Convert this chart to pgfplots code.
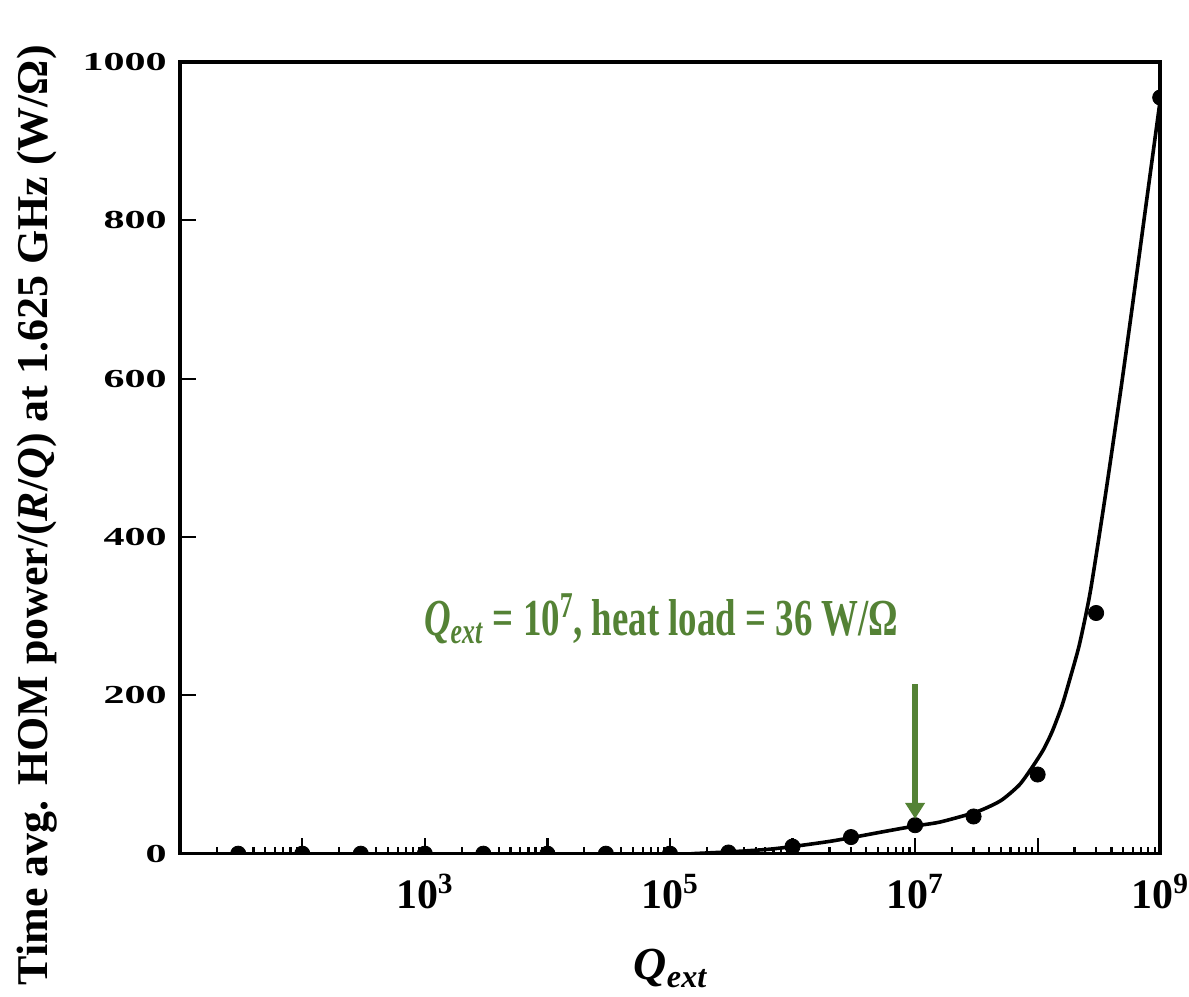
\documentclass[border=0pt]{standalone}
\usepackage{fontspec}
\setmainfont{Liberation Serif}
\usepackage{graphicx}
\usepackage{pgfplots}
\usepackage{pgfplotstable}
\pgfplotsset{compat=1.18}
\usetikzlibrary{arrows.meta}
\definecolor{annot}{RGB}{84,130,53}

\pgfplotstableread{
q y
3e1 0
1e2 0
3e2 0
1e3 0
3e3 0
1e4 0
3e4 0
1e5 0
3e5 1.5
1e6 9
3e6 21
1e7 36
3e7 47
1e8 100
3e8 304
1e9 955
}\pts

\pgfplotstableread{
q y
1.5e5 0
3.2e5 2.5
6.3e5 5.5
1e6 9
2e6 15.5
3.2e6 21
5.6e6 28
1e7 35
1.6e7 40
3.2e7 53
5e7 67
7.1e7 87
9.1e7 110
1.12e8 132
1.32e8 155
1.58e8 187
1.82e8 219
2.19e8 264
2.69e8 331
3.55e8 450
4.79e8 588
6.03e8 700
7.67e8 820
1e9 952
}\fit

\begin{document}
\begin{tikzpicture}
\begin{axis}[
  name=ax,
  scale only axis,
  width=491pt, height=396.5pt,
  xmode=log, log basis x=10,
  xmin=10, xmax=1e9,
  ymin=0, ymax=1000,
  xtick={1e1,1e2,1e3,1e4,1e5,1e6,1e7,1e8,1e9},
  minor xtick={20,30,40,50,60,70,80,90,
    200,300,400,500,600,700,800,900,
    2000,3000,4000,5000,6000,7000,8000,9000,
    2e4,3e4,4e4,5e4,6e4,7e4,8e4,9e4,
    2e5,3e5,4e5,5e5,6e5,7e5,8e5,9e5,
    2e6,3e6,4e6,5e6,6e6,7e6,8e6,9e6,
    2e7,3e7,4e7,5e7,6e7,7e7,8e7,9e7,
    2e8,3e8,4e8,5e8,6e8,7e8,8e8,9e8},
  xticklabels={{},{},10\textsuperscript{3},{},10\textsuperscript{5},{},10\textsuperscript{7},{},10\textsuperscript{9}},
  ytick={0,200,400,600,800,1000},
  yticklabels={\scalebox{1.62}[1]{0},\scalebox{1.62}[1]{200},\scalebox{1.62}[1]{400},\scalebox{1.62}[1]{600},\scalebox{1.62}[1]{800},\scalebox{1.62}[1]{1000}},
  minor y tick num=0,
  tick align=inside,
  xtick pos=bottom, ytick pos=left,
  major tick length=8pt,
  minor tick length=3.5pt,
  every tick/.style={black, line width=1.1pt},
  axis line style={line width=1.8pt},
  xticklabel style={font=\fontsize{21}{21}\selectfont\bfseries, inner sep=0pt, yshift=-10pt},
  yticklabel style={font=\fontsize{13}{13}\selectfont\bfseries, xshift=-3pt},
  xlabel={\textbf{\textit{Q}\textsubscript{\textit{ext}}}},
  xlabel style={font=\fontsize{23}{24}\selectfont, inner sep=0pt, at={(axis description cs:0.501,-0.145)}, anchor=center},
  ylabel={\textbf{Time avg. HOM power/(\textit{R}/\textit{Q}) at 1.625 GHz (W/Ω)}},
  ylabel style={font=\fontsize{22}{22}\selectfont, inner sep=0pt, at={(axis description cs:-0.1456,0.4275)}, anchor=center, rotate=0},
  clip=true,
  clip marker paths=true,
]
\addplot[black, line width=1.8pt, smooth, tension=0.4] table[x=q,y=y] {\fit};
\addplot[only marks, mark=*, mark size=3.8pt, black] table[x=q,y=y] {\pts};
\node[anchor=base, text=annot, font=\fontsize{26}{26}\selectfont\bfseries] at (axis cs:8.5e4,275)
  {\scalebox{0.71}[1]{\textit{Q}\textsubscript{\textit{ext}} = 10\textsuperscript{7}, heat load = 36 W/Ω}};
\draw[annot, line width=2.8pt, -{Triangle[width=9.5pt,length=8pt]}] (axis cs:1e7,214) -- (axis cs:1e7,44);
\end{axis}
\path (ax.south west) ++(-90pt,-71.5pt);
\path (ax.north east) ++(13.5pt,31pt);
\end{tikzpicture}
\end{document}
